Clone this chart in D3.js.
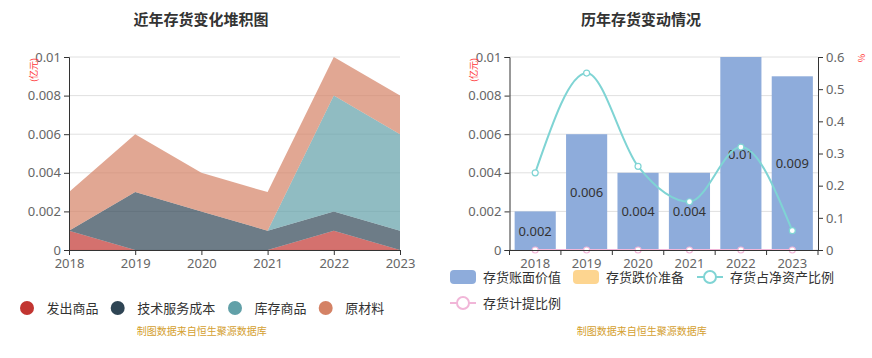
<!DOCTYPE html>
<html><head><meta charset="utf-8">
<script src="https://cdn.jsdelivr.net/npm/d3@7/dist/d3.min.js"></script>
<style>
body{margin:0;background:#fff;}
svg{display:block;font-family:"Noto Sans CJK SC","Noto Sans",sans-serif;}
</style></head>
<body>
<svg id="c" width="872" height="358"></svg>
<script>
const years = ["2018","2019","2020","2021","2022","2023"];
// left stacked chart
const stackNames = ["发出商品","技术服务成本","库存商品","原材料"];
const s_fachu = [0.001,0,0,0,0.001,0];
const s_jishu = [0,0.003,0.002,0.001,0.001,0.001];
const s_kucun = [0,0,0,0,0.006,0.005];
const s_yuancl = [0.002,0.003,0.002,0.002,0.002,0.002];
const stackColors = ["#c23531","#2f4554","#61a0a8","#d48265"];
const leftTicks = [0,0.002,0.004,0.006,0.008,0.01];
// right chart
const bookValue = [0.002,0.006,0.004,0.004,0.01,0.009];
const provision = [0,0,0,0,0,0];
const ratioNet = [0.24,0.55,0.26,0.15,0.32,0.06];
const ratioProv = [0,0,0,0,0,0];
const rightTicksL = [0,0.002,0.004,0.006,0.008,0.01];
const rightTicksR = [0,0.1,0.2,0.3,0.4,0.5,0.6];
const legendRight = ["存货账面价值","存货跌价准备","存货占净资产比例","存货计提比例"];

const svg = d3.select("#c");
const axisColor = "#333", labelColor = "#666", gridColor = "#e0e0e0";

function yAxisDraw(g, scale, ticks, x0, x1, fmt){
  g.selectAll(".grid").data(ticks).enter().append("line")
    .attr("x1",x0).attr("x2",x1).attr("y1",d=>scale(d)).attr("y2",d=>scale(d))
    .attr("stroke",gridColor).attr("stroke-width",1);
}
const fmt = d => d===0 ? "0" : String(+d.toFixed(4));

// ---------- LEFT ----------
const xL = d3.scalePoint().domain(years).range([69,400]);
const yL = d3.scaleLinear().domain([0,0.01]).range([250,57]);
const gL = svg.append("g");
yAxisDraw(gL, yL, leftTicks, 69, 400);

const tableL = years.map((y,i)=>({year:y, a:s_fachu[i], b:s_jishu[i], c:s_kucun[i], d:s_yuancl[i]}));
const stack = d3.stack().keys(["a","b","c","d"])(tableL);
const area = d3.area().x(d=>xL(d.data.year)).y0(d=>yL(d[0])).y1(d=>yL(d[1]));
gL.selectAll(".ar").data(stack).enter().append("path")
  .attr("d",area).attr("fill",(d,i)=>stackColors[i]).attr("fill-opacity",0.7);

const axL = gL.append("g").attr("transform","translate(69,0)")
  .call(d3.axisLeft(yL).tickValues(leftTicks).tickSize(5).tickFormat(fmt));
const axLB = gL.append("g").attr("transform","translate(0,250)")
  .call(d3.axisBottom(xL).tickSize(5).tickPadding(4));
[axL,axLB].forEach(a=>{
  a.select(".domain").attr("stroke",axisColor);
  a.selectAll(".tick line").attr("stroke",axisColor);
  a.selectAll("text").attr("fill",labelColor).style("font-size","13px").style("font-family","'Noto Sans','Noto Sans CJK SC',sans-serif");
});
gL.append("text").attr("transform","translate(37,70) rotate(-90)").attr("text-anchor","middle")
  .attr("fill","#ff3333").style("font-size","9px").text("(亿元)");

gL.append("text").attr("x",201).attr("y",25).attr("text-anchor","middle")
  .attr("fill","#333").style("font-size","15px").style("font-weight","bold").text("近年存货变化堆积图");

const legL = [27,117.7,235,325.7];
stackNames.forEach((n,i)=>{
  gL.append("circle").attr("cx",legL[i]).attr("cy",308).attr("r",7).attr("fill",stackColors[i]);
  gL.append("text").attr("x",legL[i]+19.5).attr("y",312.5).attr("fill","#333")
    .style("font-size","13px").text(n);
});
gL.append("text").attr("x",201.7).attr("y",335).attr("text-anchor","middle")
  .attr("fill","#d4a030").style("font-size","10px").text("制图数据来自恒生聚源数据库");

// ---------- RIGHT ----------
const xR = d3.scaleBand().domain(years).range([509.5,818]).paddingInner(0.2).paddingOuter(0.1);
const yR = d3.scaleLinear().domain([0,0.01]).range([250,57]);
const yR2 = d3.scaleLinear().domain([0,0.6]).range([250,57]);
const gR = svg.append("g");
yAxisDraw(gR, yR, rightTicksL, 509.5, 818);

gR.selectAll(".bar").data(years).enter().append("rect")
  .attr("x",d=>xR(d)).attr("width",xR.bandwidth())
  .attr("y",(d,i)=>yR(bookValue[i])).attr("height",(d,i)=>250-yR(bookValue[i]))
  .attr("fill","#8eacdb");
gR.selectAll(".bl").data(years).enter().append("text")
  .attr("x",d=>xR(d)+xR.bandwidth()/2).attr("y",(d,i)=>(yR(bookValue[i])+250)/2+5)
  .attr("text-anchor","middle").attr("fill","#333").style("font-size","13px")
  .style("font-family","'Noto Sans',sans-serif")
  .text((d,i)=>fmt(bookValue[i]));

const cx = d => xR(d)+xR.bandwidth()/2;
const lineNet = d3.line().x((d,i)=>cx(years[i])).y(d=>yR2(d)).curve(d3.curveMonotoneX);
gR.append("path").attr("d",lineNet(ratioNet)).attr("fill","none").attr("stroke","#7fd4d4").attr("stroke-width",2);
gR.append("path").attr("d",lineNet(ratioProv)).attr("fill","none").attr("stroke","#f1b6d8").attr("stroke-width",2);
gR.selectAll(".mn").data(ratioNet).enter().append("circle")
  .attr("cx",(d,i)=>cx(years[i])).attr("cy",d=>yR2(d)).attr("r",3)
  .attr("fill","#fff").attr("stroke","#7fd4d4").attr("stroke-width",1.2);
gR.selectAll(".mp").data(ratioProv).enter().append("circle")
  .attr("cx",(d,i)=>cx(years[i])).attr("cy",d=>yR2(d)).attr("r",3)
  .attr("fill","#fff").attr("stroke","#f1b6d8").attr("stroke-width",1.2);

const axRL = gR.append("g").attr("transform","translate(509.5,0)")
  .call(d3.axisLeft(yR).tickValues(rightTicksL).tickSize(5).tickFormat(fmt));
const axRR = gR.append("g").attr("transform","translate(818,0)")
  .call(d3.axisRight(yR2).tickValues(rightTicksR).tickSize(5).tickFormat(fmt));
const axRB = gR.append("g").attr("transform","translate(0,250)")
  .call(d3.axisBottom(xR).tickSize(0).tickPadding(9));
// boundary ticks
const bounds = years.map(y=>xR(y)-xR.step()*xR.paddingInner()/2).concat([818]);
bounds[0]=509.5;
gR.selectAll(".bt").data(bounds).enter().append("line")
  .attr("x1",d=>d).attr("x2",d=>d).attr("y1",250).attr("y2",255).attr("stroke",axisColor);
[axRL,axRR,axRB].forEach(a=>{
  a.select(".domain").attr("stroke",axisColor);
  a.selectAll(".tick line").attr("stroke",axisColor);
  a.selectAll("text").attr("fill",labelColor).style("font-size","13px").style("font-family","'Noto Sans','Noto Sans CJK SC',sans-serif");
});
gR.append("text").attr("transform","translate(477,70) rotate(-90)").attr("text-anchor","middle")
  .attr("fill","#ff3333").style("font-size","9px").text("(亿元)");
gR.append("text").attr("transform","translate(865,58) rotate(-90)").attr("text-anchor","middle")
  .attr("fill","#ff3333").style("font-size","9px").text("%");

gR.append("text").attr("x",641).attr("y",25).attr("text-anchor","middle")
  .attr("fill","#333").style("font-size","15px").style("font-weight","bold").text("历年存货变动情况");

// legend right
const lg = [{x:450,y:277,t:"rect",c:"#8eacdb"},{x:573,y:277,t:"rect",c:"#fdd590"},
            {x:697,y:277,t:"line",c:"#7fd4d4"},{x:450,y:303,t:"line",c:"#f1b6d8"}];
lg.forEach((l,i)=>{
  if(l.t==="rect"){
    gR.append("rect").attr("x",l.x).attr("y",l.y-7).attr("width",26).attr("height",14).attr("rx",4).attr("fill",l.c);
  } else {
    gR.append("line").attr("x1",l.x).attr("x2",l.x+26).attr("y1",l.y).attr("y2",l.y).attr("stroke",l.c).attr("stroke-width",2);
    gR.append("circle").attr("cx",l.x+13).attr("cy",l.y).attr("r",6).attr("fill","#fff").attr("stroke",l.c).attr("stroke-width",2);
  }
  gR.append("text").attr("x",l.x+33).attr("y",l.y+5).attr("fill","#333").style("font-size","13px").text(legendRight[i]);
});
gR.append("text").attr("x",641.7).attr("y",335).attr("text-anchor","middle")
  .attr("fill","#d4a030").style("font-size","10px").text("制图数据来自恒生聚源数据库");
</script>
</body></html>
